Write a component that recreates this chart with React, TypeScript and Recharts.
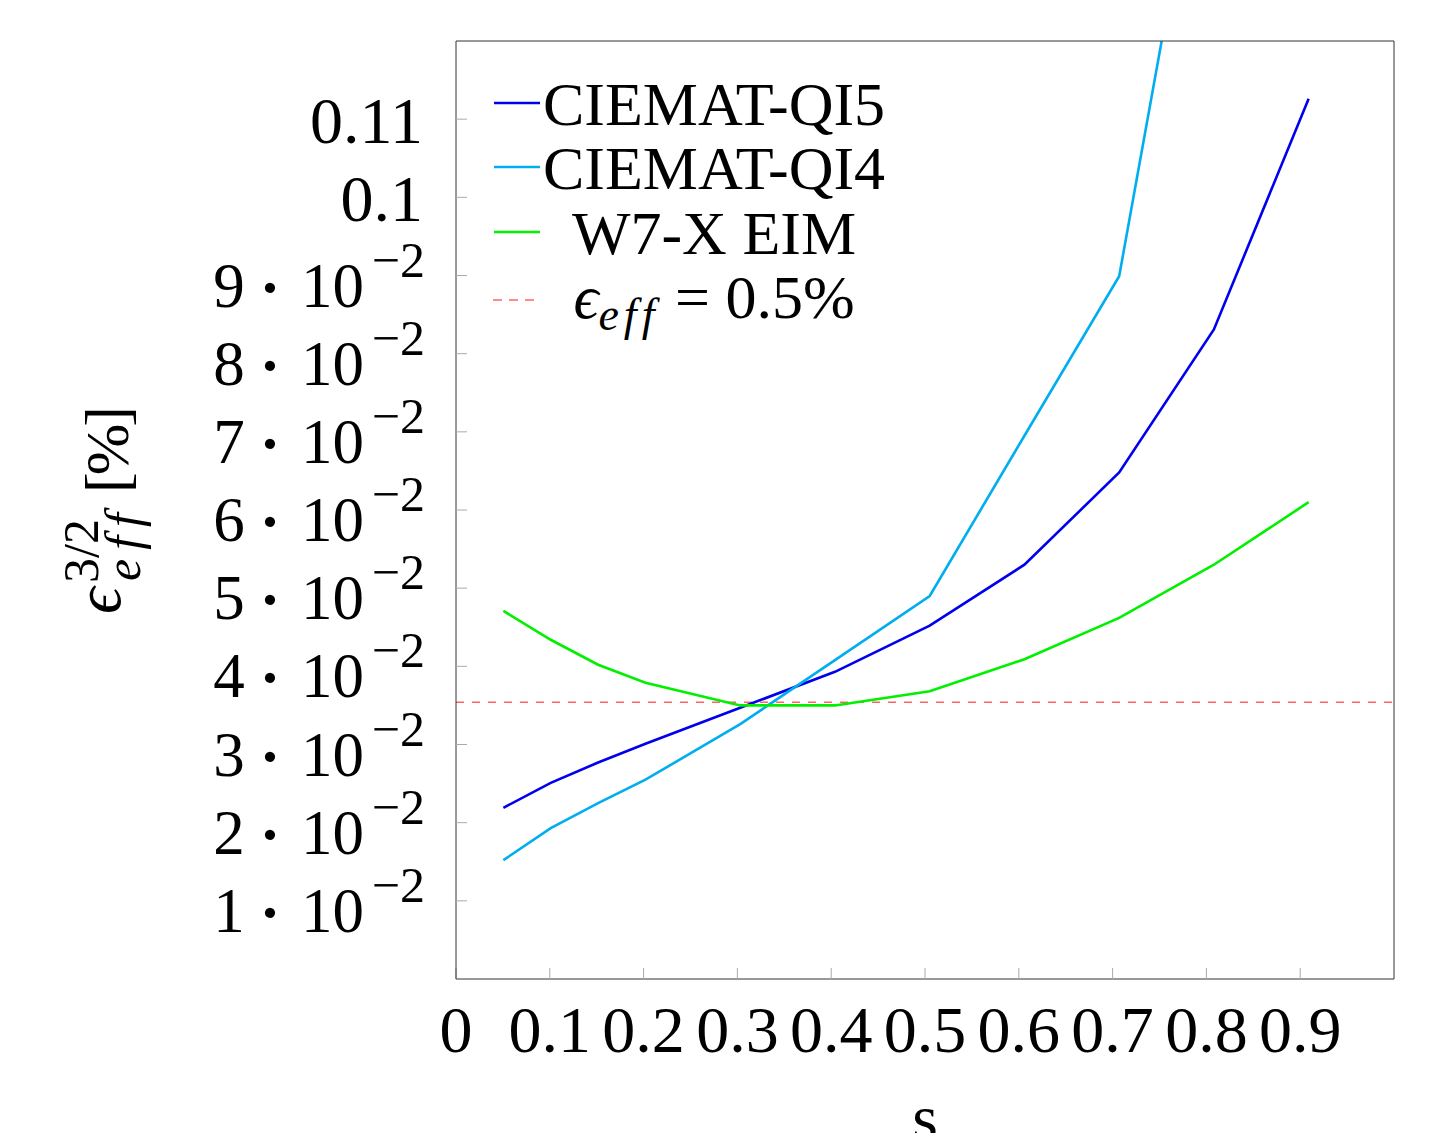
import React from 'react'
import { LineChart, Line, XAxis, YAxis, ReferenceLine, Legend, Label } from 'recharts'

// radial coordinate s and eps_eff^(3/2) [%]
const sValues = [0.0505, 0.101, 0.1515, 0.202, 0.303, 0.404, 0.505, 0.606, 0.707, 0.808, 0.909]
const qi5 = [0.0219, 0.0251, 0.0277, 0.0301, 0.0347, 0.0393, 0.0452, 0.053, 0.0648, 0.0831, 0.1126]
const qi4 = [0.0152, 0.0193, 0.0225, 0.0255, 0.0326, 0.0408, 0.049, 0.0695, 0.0899, 0.157, 0.24]
const w7x = [0.0471, 0.0434, 0.0402, 0.0379, 0.035, 0.035, 0.0368, 0.0409, 0.0462, 0.053, 0.061]
const epsRef = 0.0354

const xTicks = [0, 0.1, 0.2, 0.3, 0.4, 0.5, 0.6, 0.7, 0.8, 0.9]
const xTickLabels = ['0', '0.1', '0.2', '0.3', '0.4', '0.5', '0.6', '0.7', '0.8', '0.9']
const yTicks = [0.01, 0.02, 0.03, 0.04, 0.05, 0.06, 0.07, 0.08, 0.09, 0.1, 0.11]
const yTickLabels = [
  '1·10^−2', '2·10^−2', '3·10^−2', '4·10^−2', '5·10^−2', '6·10^−2',
  '7·10^−2', '8·10^−2', '9·10^−2', '0.1', '0.11',
]

const seriesNames = ['CIEMAT-QI5', 'CIEMAT-QI4', 'W7-X EIM']
const seriesColors = ['#0000ee', '#00aeef', '#00f000']
const refColor = '#ff6464'
const frame = '#333'
const tickGray = '#aaa'

const data = sValues.map((s, i) => ({ s, qi5: qi5[i], qi4: qi4[i], w7x: w7x[i] }))

const FONT = '"Liberation Serif", "DejaVu Serif", serif'
const TICK = 66
const SCI = 63
const SUP = 50
const LEG = 62
const SMALL = 46

const findLabel = (ticks: number[], labels: string[], v: number) => {
  const i = ticks.findIndex(t => Math.abs(t - v) < 1e-9)
  return i >= 0 ? labels[i] : String(v)
}

const XTick = (props: any) => {
  const { x, y, payload } = props
  return (
    <text x={x} y={y} textAnchor="middle" fontFamily={FONT} fontSize={TICK} fill="#000">
      {findLabel(xTicks, xTickLabels, payload.value)}
    </text>
  )
}

const YTick = (props: any) => {
  const { x, y, payload } = props
  const label = findLabel(yTicks, yTickLabels, payload.value)
  const [main, exp] = label.split('^')
  if (!exp) {
    return (
      <text x={x} y={y + 24} textAnchor="end" fontFamily={FONT} fontSize={TICK} fill="#000">
        {label}
      </text>
    )
  }
  const [mant, base] = main.split('·')
  return (
    <g fontFamily={FONT} fill="#000">
      <text x={x - 194} y={y + 31} textAnchor="middle" fontSize={SCI}>{mant}</text>
      <text x={x - 153} y={y + 33} textAnchor="middle" fontSize={SCI} fontWeight="bold">·</text>
      <text x={x - 59} y={y + 31} textAnchor="end" fontSize={SCI}>{base}</text>
      <text x={x + 2} y={y + 1} textAnchor="end" fontSize={SUP}>{exp}</text>
    </g>
  )
}

const renderYTitle = (props: any) => {
  const vb = props.viewBox || { x: 0, y: 41, width: 456, height: 938 }
  const cy = vb.y + vb.height / 2 + 5
  return (
    <g transform={`translate(${vb.x + 122}, ${cy}) rotate(-90)`} fontFamily={FONT} fill="#000">
      <text x={-99} y={-2} fontSize={66} fontStyle="italic">ϵ</text>
      <text x={-68} y={-24} fontSize={50}>3/2</text>
      <text x={-66} y={18} fontSize={50} fontStyle="italic" letterSpacing={9} style={{ fontVariantLigatures: 'none' }}>
        eff
      </text>
      <text x={22} y={6} fontSize={62} letterSpacing={-3}>[%]</text>
    </g>
  )
}

const renderXTitle = (props: any) => {
  const vb = props.viewBox || { x: 456, y: 979, width: 938, height: 154 }
  return (
    <text x={vb.x + vb.width / 2} y={1140} textAnchor="middle" fontFamily={FONT} fontSize={TICK} fill="#000">
      s
    </text>
  )
}

const LegendBox = () => {
  const rows = [43, 107, 172, 240]
  return (
    <svg width={440} height={290} style={{ overflow: 'visible' }}>
      <g fontFamily={FONT} fill="#000">
        {seriesNames.map((name, i) => (
          <g key={name}>
            <line x1={14} x2={60} y1={rows[i]} y2={rows[i]} stroke={seriesColors[i]} strokeWidth={2.6} />
            <text x={234} y={rows[i] + 22} textAnchor="middle" fontSize={LEG}>{name}</text>
          </g>
        ))}
        <line x1={13} x2={54} y1={rows[3]} y2={rows[3]} stroke={refColor} strokeWidth={1.6} strokeDasharray="9 7" />
        <text x={234} y={rows[3] + 18} textAnchor="middle" fontSize={LEG}>
          <tspan fontStyle="italic">ϵ</tspan>
          <tspan fontStyle="italic" fontSize={SMALL} dy={12} letterSpacing={5} style={{ fontVariantLigatures: 'none' }}>eff</tspan>
          <tspan dy={-12}> = 0.5%</tspan>
        </text>
      </g>
    </svg>
  )
}

export default function App() {
  return (
    <div>
      <style>{'body{margin:0}'}</style>
      <LineChart width={1437} height={1133} data={data} margin={{ top: 40, right: 42, left: 0, bottom: 0 }}>
        <XAxis
          dataKey="s"
          type="number"
          domain={[0, 1]}
          ticks={xTicks}
          interval={0}
          height={154}
          tickSize={-11}
          tickMargin={84}
          tick={<XTick />}
          axisLine={{ stroke: frame }}
          tickLine={{ stroke: tickGray }}
        >
          <Label content={renderXTitle} />
        </XAxis>
        <XAxis
          xAxisId="top"
          orientation="top"
          type="number"
          domain={[0, 1]}
          ticks={xTicks}
          interval={0}
          height={1}
          tickSize={-11}
          tick={false}
          axisLine={{ stroke: frame }}
          tickLine={{ stroke: tickGray }}
        />
        <YAxis
          type="number"
          domain={[0, 0.12]}
          allowDataOverflow
          ticks={yTicks}
          interval={0}
          width={456}
          tickSize={-11}
          tickMargin={44}
          tick={<YTick />}
          axisLine={{ stroke: frame }}
          tickLine={{ stroke: tickGray }}
        >
          <Label content={renderYTitle} />
        </YAxis>
        <YAxis
          yAxisId="right"
          orientation="right"
          type="number"
          domain={[0, 0.12]}
          ticks={yTicks}
          interval={0}
          width={1}
          tickSize={-11}
          tick={false}
          axisLine={{ stroke: frame }}
          tickLine={{ stroke: tickGray }}
        />
        <ReferenceLine y={epsRef} stroke={refColor} strokeDasharray="8 8" strokeWidth={1.6} />
        <Line type="linear" dataKey="qi5" name={seriesNames[0]} stroke={seriesColors[0]} strokeWidth={2.6} dot={false} activeDot={false} isAnimationActive={false} />
        <Line type="linear" dataKey="qi4" name={seriesNames[1]} stroke={seriesColors[1]} strokeWidth={2.6} dot={false} activeDot={false} isAnimationActive={false} />
        <Line type="linear" dataKey="w7x" name={seriesNames[2]} stroke={seriesColors[2]} strokeWidth={2.6} dot={false} activeDot={false} isAnimationActive={false} />
        <Legend
          layout="vertical"
          align="center"
          verticalAlign="middle"
          content={<LegendBox />}
          wrapperStyle={{ position: 'absolute', left: 480, top: 60, width: 440, height: 290 }}
        />
      </LineChart>
    </div>
  )
}
